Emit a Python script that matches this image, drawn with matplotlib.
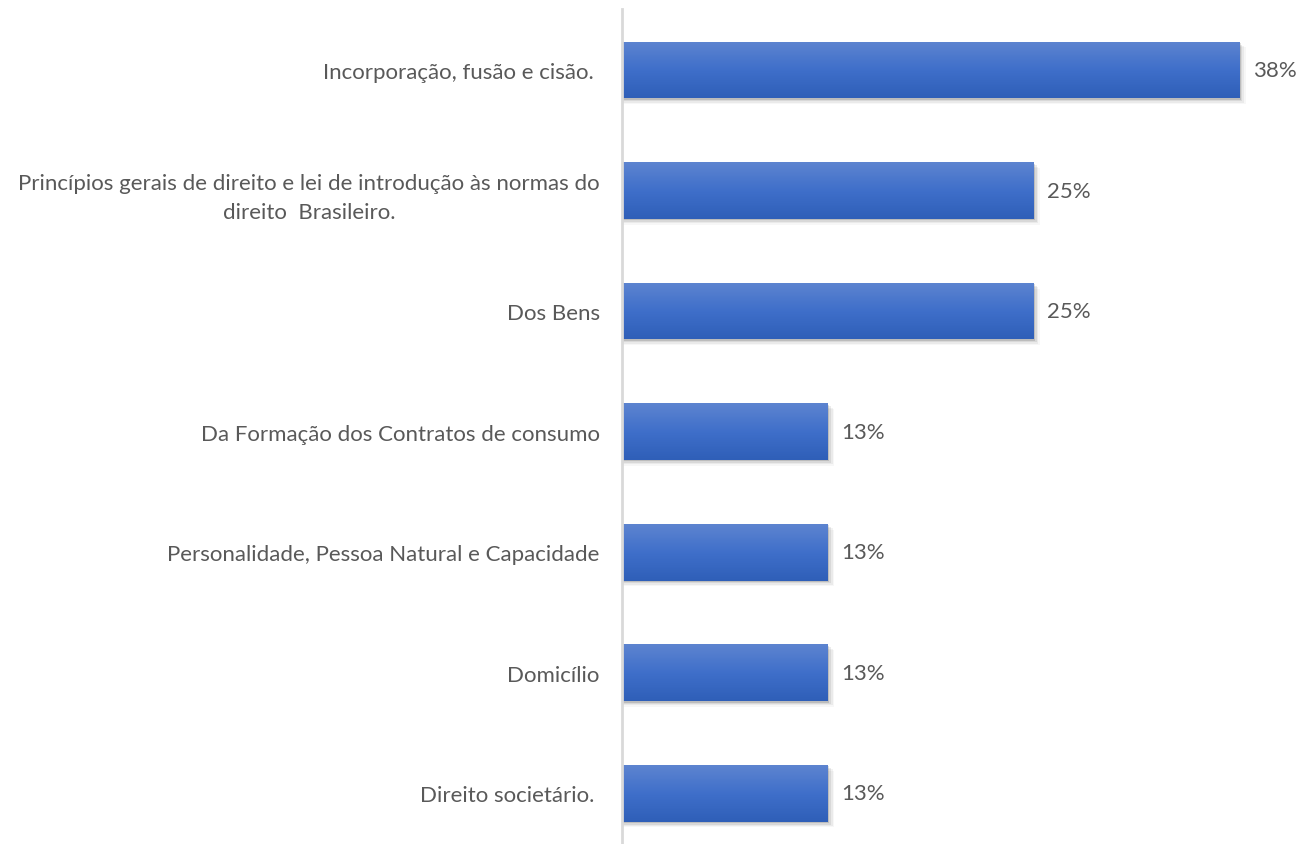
import numpy as np
import matplotlib
matplotlib.use('Agg')
import matplotlib.pyplot as plt
from matplotlib.patches import Rectangle

categories = [
    'Incorporação, fusão e cisão. ',
    'Princípios gerais de direito e lei de introdução às normas do\ndireito  Brasileiro.',
    'Dos Bens',
    'Da Formação dos Contratos de consumo',
    'Personalidade, Pessoa Natural e Capacidade',
    'Domicílio',
    'Direito societário. ',
]
values = [0.375, 0.25, 0.25, 0.125, 0.125, 0.125, 0.125]
value_labels = ['38%', '25%', '25%', '13%', '13%', '13%', '13%']

plt.rcParams['font.family'] = ['Lato', 'DejaVu Sans']
text_color = '#595959'

fig = plt.figure(figsize=(13, 8.45), dpi=100)
ax = fig.add_axes([622 / 1300, 0.0, 1 - 622 / 1300, 835 / 845])

n = len(categories)
ypos = np.arange(n)
bar_h = 0.47
xmax = 0.412

ax.set_xlim(0, xmax)
ax.set_ylim(6.42, -0.506)

# vertical gradient, light on top, darker at the bottom
grad = np.linspace(0, 1, 64).reshape(-1, 1)
cmap = matplotlib.colors.LinearSegmentedColormap.from_list('bar', ['#5d84d0', '#3f6fca', '#2f5fb8'])

for y, v, lab in zip(ypos, values, value_labels):
    # soft shadow
    for k, a in enumerate([0.12, 0.08, 0.05, 0.03]):
        off_x = 0.0010 * (k + 1)
        off_y = 0.012 * (k + 1)
        ax.add_patch(Rectangle((0, y - bar_h / 2 + off_y), v + off_x, bar_h,
                               facecolor='black', alpha=a, edgecolor='none', zorder=1))
    rect = Rectangle((0, y - bar_h / 2), v, bar_h, facecolor='#3f6fca', edgecolor='none', zorder=2)
    ax.add_patch(rect)
    im = ax.imshow(grad, cmap=cmap, aspect='auto', zorder=3,
                   extent=(0, v, y + bar_h / 2, y - bar_h / 2))
    im.set_clip_path(rect)
    ax.text(v + 0.0085, y, lab, va='center', ha='left', fontsize=16, color=text_color)

ax.set_yticks(ypos)
ax.set_yticklabels(categories, fontsize=16, color=text_color,
                   multialignment='center', linespacing=1.6)
ax.tick_params(axis='y', length=0, pad=16)
ax.set_xticks([])
for s in ['top', 'right', 'bottom']:
    ax.spines[s].set_visible(False)
ax.spines['left'].set_color('#d9d9d9')
ax.spines['left'].set_linewidth(2)
ax.spines['left'].set_zorder(5)

fig.savefig('out.png', dpi=100)
